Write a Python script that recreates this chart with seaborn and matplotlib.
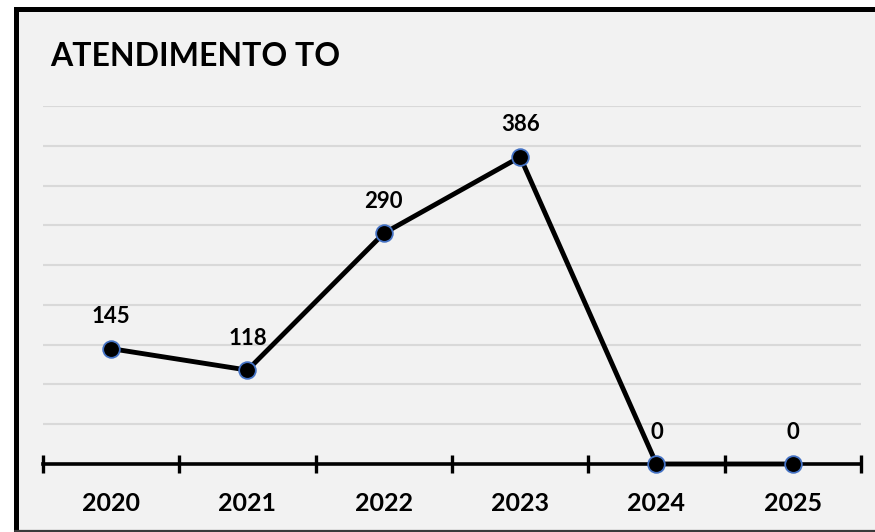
import matplotlib
matplotlib.use("Agg")
import matplotlib.pyplot as plt
from matplotlib.patches import Rectangle
from matplotlib.lines import Line2D
from matplotlib.ticker import FixedLocator, NullFormatter
import seaborn as sns
import pandas as pd
import numpy as np

# ---- data ----
years = ["2020", "2021", "2022", "2023", "2024", "2025"]
values = [145, 118, 290, 386, 0, 0]
title = "ATENDIMENTO TO"

sns.set_theme(style="white")
plt.rcParams["font.family"] = ["Lato", "DejaVu Sans"]

W, H = 875, 532
fig = plt.figure(figsize=(W / 100, H / 100), dpi=100, facecolor="white")

# outer panel with black border
bg = Rectangle((15.5 / W, -4 / H), (W + 20 - 15.5) / W, (H - 9.5 + 4) / H,
               transform=fig.transFigure, facecolor="#F2F2F2",
               edgecolor="black", linewidth=3.6, zorder=-10)
fig.patches.append(bg)
fig.lines.append(Line2D([15 / W, 1], [1.2 / H, 1.2 / H], transform=fig.transFigure,
                        color="#3a3a3a", linewidth=1.6, zorder=-5))

ax = fig.add_axes([43 / W, (H - 464) / H, (861 - 43) / W, (464 - 106) / H])
ax.set_zorder(1)
ax.set_facecolor("none")

df = pd.DataFrame({"pos": np.arange(len(years)), "val": values})
sns.lineplot(data=df, x="pos", y="val", ax=ax, color="black", linewidth=3.5,
             marker="o", markersize=12, markerfacecolor="black",
             markeredgecolor="#4472C4", markeredgewidth=1.3, zorder=5,
             clip_on=False)

ax.set_xlim(-0.5, len(years) - 0.5)
ax.set_ylim(0, 450)

# gridlines
for g in range(50, 451, 50):
    ax.axhline(g, color="#D9D9D9", linewidth=1.5, zorder=1)

for s in ["top", "right", "left"]:
    ax.spines[s].set_visible(False)
ax.spines["bottom"].set_color("black")
ax.spines["bottom"].set_linewidth(2.6)
ax.spines["bottom"].set_zorder(3)

ax.set_yticks([])
ax.set_xticks(np.arange(len(years)))
ax.set_xticklabels(years, fontsize=18, fontweight="bold", color="black")
ax.tick_params(axis="x", which="major", length=0, pad=20, bottom=True)
ax.xaxis.set_minor_locator(FixedLocator(np.arange(-0.5, len(years), 1.0)))
ax.xaxis.set_minor_formatter(NullFormatter())
ax.tick_params(axis="x", which="minor", direction="inout", length=13,
               width=2.4, color="black", bottom=True)
ax.set_xlabel("")
ax.set_ylabel("")

for i, v in enumerate(values):
    ax.annotate(str(v), (i, v), xytext=(0, 23), textcoords="offset points",
                ha="center", va="center", fontsize=16, fontweight="bold",
                color="black", zorder=6)

fig.text(50 / W, 1 - 56 / H, title, ha="left", va="center",
         fontsize=23, fontweight="bold", color="black")

fig.savefig("out.png", dpi=100, facecolor="white")
